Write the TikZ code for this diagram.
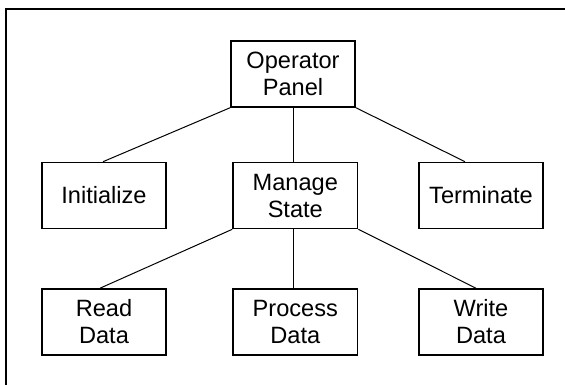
\documentclass[tikz,border=0pt]{standalone}
\usepackage{fontspec}
\setmainfont{Liberation Sans}
\usetikzlibrary{calc, positioning}

\begin{document}
\begin{tikzpicture}[x=1pt, y=-1pt,
    box/.style={draw, line width=1.6pt, minimum width=124.5pt, minimum height=66pt,
        inner sep=0pt, align=center, font=\fontsize{23.6}{27}\selectfont},
    link/.style={black, line width=1pt}]
    % 1. Page frame (only the top and left sides are seen)
    \useasboundingbox (0,0) rectangle (565,384);
    \clip (0,0) rectangle (565,384);
    \draw[line width=2pt] (6,400) -- (6,9) -- (580,9);

    % 2. Boxes, top row
    \node[box] (op) at (293,74) {Operator\\Panel};

    % Middle row
    \node[box] (init) at (104,195.5) {Initialize};
    \node[box] (ms) at (295.3,195.5) {Manage\\State};
    \node[box] (term) at (481,195.5) {Terminate};

    % Bottom row
    \node[box] (read) at (104,322) {Read\\Data};
    \node[box] (proc) at (295.3,322) {Process\\Data};
    \node[box] (write) at (481,322) {Write\\Data};

    % 3. Connectors from Operator Panel
    \draw[link] (op.south west) -- ([xshift=-1pt]init.north);
    \draw[link] (op.south) -- (op.south |- ms.north);
    \draw[link] (op.south east) -- ([xshift=-16pt]term.north);

    % Connectors from Manage State
    \draw[link] (ms.south west) -- ([xshift=-4pt]read.north);
    \draw[link] (ms.south -| op.south) -- (proc.north -| op.south);
    \draw[link] (ms.south east) -- ([xshift=-5pt]write.north);

\end{tikzpicture}
\end{document}
